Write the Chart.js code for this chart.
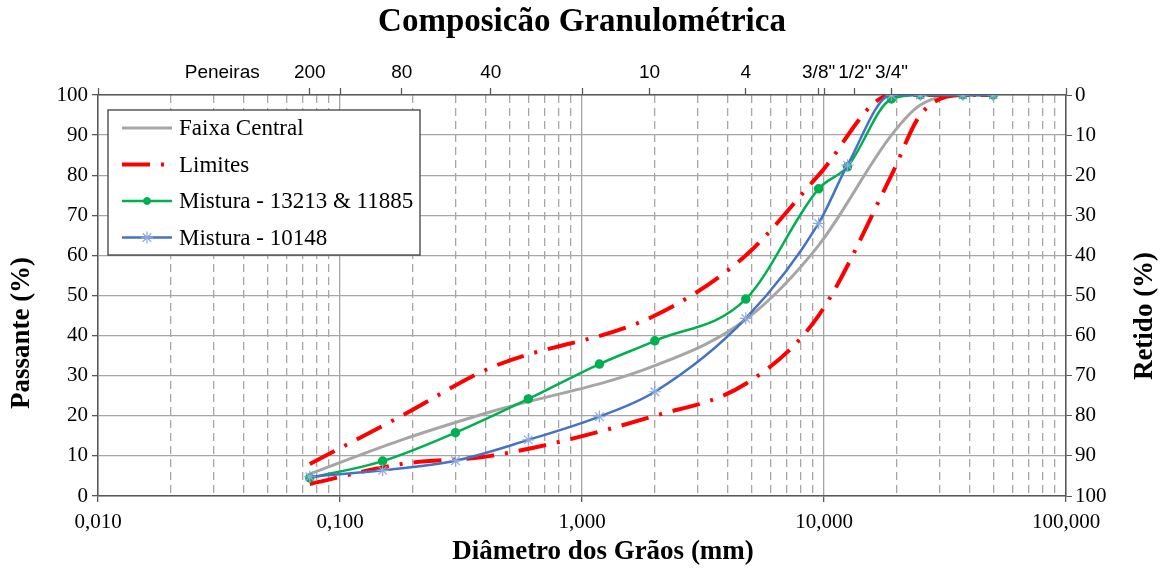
<!DOCTYPE html>
<html>
<head>
<meta charset="utf-8">
<script src="https://cdn.jsdelivr.net/npm/chart.js@4.4.1/dist/chart.umd.min.js"></script>
<style>
html, body { margin: 0; padding: 0; background: #fff; }
#wrap { width: 1164px; height: 572px; }
</style>
</head>
<body>
<div id="wrap"><canvas id="granChart"></canvas></div>
<script>
// peneiras usadas nas misturas (mm)
const misturaSieves = [0.075, 0.15, 0.3, 0.6, 1.18, 2.0, 4.75, 9.5, 12.5, 19, 25, 37.5, 50];
const mistura13213 = [4.5, 8.7, 15.8, 24.2, 32.9, 38.7, 49.1, 76.6, 82.1, 99.0, 100, 100, 100];
const mistura10148 = [4.8, 6.4, 8.8, 14.0, 19.8, 26.0, 44.3, 68.0, 82.5, 100, 100, 100, 100];

// faixa de projeto (mm)
const faixaSieves = [0.075, 0.18, 0.42, 2.0, 4.75, 9.5, 19, 25, 37.5, 50];
const limiteSuperior = [8, 20, 32, 45, 60, 80, 100, 100, 100, 100];
const limiteInferior = [3, 8, 10, 20, 28, 45, 80, 95, 100, 100];
const faixaCentral = [5.5, 14, 21, 32.5, 44, 62.5, 90, 97.5, 100, 100];

// eixo inferior
const xDecades = [0.01, 0.1, 1, 10, 100];
const xDecadeLabels = ["0,010", "0,100", "1,000", "10,000", "100,000"];

// eixo superior (peneiras)
const peneiraLabels = ["200", "80", "40", "10", "4", "3/8\"", "1/2\"", "3/4\""];
const peneiraSizes = [0.075, 0.18, 0.42, 1.9, 4.75, 9.5, 13.4, 19];
const peneirasTitlePos = 0.0326;

const SERIF = "'Liberation Serif', 'Times New Roman', serif";
const SANS = "'Liberation Sans', Arial, sans-serif";
const AXIS_COLOR = "#595959";
const GRID_COLOR = "#a6a6a6";

function toPoints(xs, ys) {
    return xs.map((x, i) => ({ x: x, y: ys[i] }));
}

function isDecade(v) {
    const l = Math.log10(v);
    return Math.abs(l - Math.round(l)) < 1e-6;
}

function sameValue(a, b) {
    return Math.abs(a - b) < 1e-9 * Math.max(1, Math.abs(b));
}

// legenda com moldura, dentro da área do gráfico
const boxedLegend = {
    id: "boxedLegend",
    afterDraw(chart) {
        const ctx = chart.ctx;
        const items = chart.data.datasets.filter(d => !d.hideInLegend);
        const x0 = 108, y0 = 110, w = 312, h = 145;
        ctx.save();
        ctx.fillStyle = "#fff";
        ctx.fillRect(x0, y0, w, h);
        ctx.strokeStyle = "#404040";
        ctx.lineWidth = 1.3;
        ctx.strokeRect(x0, y0, w, h);
        items.forEach((d, i) => {
            const cy = 128 + i * 36.5;
            ctx.save();
            ctx.strokeStyle = d.borderColor;
            ctx.lineWidth = d.borderWidth;
            ctx.setLineDash(d.borderDash || []);
            ctx.beginPath();
            ctx.moveTo(122, cy);
            ctx.lineTo(172, cy);
            ctx.stroke();
            ctx.restore();
            if (d.pointRadius > 0) {
                ctx.save();
                ctx.fillStyle = d.pointBackgroundColor;
                ctx.strokeStyle = d.pointBorderColor;
                ctx.lineWidth = d.pointBorderWidth || 1;
                Chart.helpers.drawPoint(ctx, {
                    pointStyle: d.pointStyle,
                    radius: d.pointRadius,
                    borderWidth: d.pointBorderWidth || 1,
                    rotation: 0
                }, 147, cy);
                ctx.restore();
            }
            ctx.fillStyle = "#000";
            ctx.font = "23px " + SERIF;
            ctx.textAlign = "left";
            ctx.textBaseline = "middle";
            ctx.fillText(d.label, 179, cy + 1);
        });
        ctx.restore();
    }
};

// títulos dos eixos
const axisTitles = {
    id: "axisTitles",
    afterDraw(chart) {
        const ctx = chart.ctx;
        ctx.save();
        ctx.fillStyle = "#000";
        ctx.font = "bold 27px " + SERIF;
        ctx.textAlign = "center";
        ctx.textBaseline = "middle";
        ctx.fillText("Diâmetro dos Grãos (mm)", 603, 552);
        ctx.translate(22, 333);
        ctx.rotate(-Math.PI / 2);
        ctx.fillText("Passante (%)", 0, 0);
        ctx.restore();
        ctx.save();
        ctx.fillStyle = "#000";
        ctx.font = "bold 27px " + SERIF;
        ctx.textAlign = "center";
        ctx.textBaseline = "middle";
        ctx.translate(1145, 316);
        ctx.rotate(-Math.PI / 2);
        ctx.fillText("Retido (%)", 0, 0);
        ctx.restore();
    }
};

const ctx = document.getElementById("granChart");
new Chart(ctx, {
    type: "scatter",
    data: {
        datasets: [
            {
                label: "Faixa Central",
                data: toPoints(faixaSieves, faixaCentral),
                showLine: true,
                borderColor: "#a6a6a6",
                borderWidth: 3,
                pointRadius: 0,
                cubicInterpolationMode: "monotone",
                order: 5
            },
            {
                label: "Limites",
                data: toPoints(faixaSieves, limiteSuperior),
                showLine: true,
                borderColor: "#ff0000",
                borderWidth: 4,
                borderDash: [28, 11, 3, 11],
                pointRadius: 0,
                cubicInterpolationMode: "monotone",
                order: 4
            },
            {
                label: "Limites",
                hideInLegend: true,
                data: toPoints(faixaSieves, limiteInferior),
                showLine: true,
                borderColor: "#ff0000",
                borderWidth: 4,
                borderDash: [28, 11, 3, 11],
                pointRadius: 0,
                cubicInterpolationMode: "monotone",
                order: 3
            },
            {
                label: "Mistura - 13213 & 11885",
                data: toPoints(misturaSieves, mistura13213),
                showLine: true,
                borderColor: "#00b050",
                borderWidth: 2.5,
                pointStyle: "circle",
                pointRadius: 3.5,
                pointBackgroundColor: "#00b050",
                pointBorderColor: "#00b050",
                cubicInterpolationMode: "monotone",
                order: 2
            },
            {
                label: "Mistura - 10148",
                data: toPoints(misturaSieves, mistura10148),
                showLine: true,
                borderColor: "#4472c4",
                borderWidth: 2.5,
                pointStyle: "star",
                pointRadius: 6,
                pointBorderWidth: 1.2,
                pointBackgroundColor: "#8eaadb",
                pointBorderColor: "#8eaadb",
                cubicInterpolationMode: "monotone",
                order: 1
            }
        ]
    },
    options: {
        responsive: true,
        maintainAspectRatio: false,
        animation: false,
        events: [],
        layout: { padding: 0 },
        plugins: {
            legend: { display: false },
            tooltip: { enabled: false },
            title: {
                display: true,
                text: "Composicão Granulométrica",
                color: "#000",
                font: { family: SERIF, size: 33, weight: "bold", lineHeight: 1.2 },
                padding: { top: 3, bottom: 0 }
            }
        },
        scales: {
            x: {
                type: "logarithmic",
                position: "bottom",
                min: 0.01,
                max: 100,
                afterBuildTicks(scale) {
                    const ticks = [];
                    for (let d = 0; d < 4; d++) {
                        for (let m = 1; m < 10; m++) {
                            ticks.push({ value: m * xDecades[d] });
                        }
                    }
                    ticks.push({ value: xDecades[4] });
                    scale.ticks = ticks;
                },
                afterFit(scale) { scale.height = 76; },
                ticks: {
                    autoSkip: false,
                    maxRotation: 0,
                    padding: 8,
                    color: "#000",
                    font: { family: SERIF, size: 21 },
                    callback(value) {
                        const i = xDecades.findIndex(v => sameValue(v, value));
                        return i >= 0 ? xDecadeLabels[i] : "";
                    }
                },
                grid: {
                    color: GRID_COLOR,
                    lineWidth: 1.3,
                    tickLength: 6,
                    tickColor: c => (c.tick && isDecade(c.tick.value)) ? AXIS_COLOR : "rgba(0,0,0,0)"
                },
                border: {
                    display: true,
                    color: AXIS_COLOR,
                    width: 1.5,
                    dash: c => (c.type === "tick" && c.tick && !isDecade(c.tick.value)) ? [8, 5] : []
                }
            },
            x2: {
                type: "logarithmic",
                position: "top",
                min: 0.01,
                max: 100,
                afterBuildTicks(scale) {
                    const vals = [peneirasTitlePos].concat(peneiraSizes, xDecades);
                    vals.sort((a, b) => a - b);
                    scale.ticks = vals.map(v => ({ value: v }));
                },
                afterFit(scale) { scale.height = 52.4; },
                ticks: {
                    autoSkip: false,
                    maxRotation: 0,
                    padding: 4,
                    color: "#000",
                    font: { family: SANS, size: 19 },
                    callback(value) {
                        if (sameValue(value, peneirasTitlePos)) return "Peneiras";
                        const i = peneiraSizes.findIndex(v => sameValue(v, value));
                        return i >= 0 ? peneiraLabels[i] : "";
                    }
                },
                grid: {
                    drawOnChartArea: false,
                    tickLength: 7,
                    tickColor: c => (c.tick && sameValue(c.tick.value, peneirasTitlePos)) ? "rgba(0,0,0,0)" : AXIS_COLOR,
                    tickWidth: 1.3
                },
                border: { display: true, color: AXIS_COLOR, width: 1.5 }
            },
            y: {
                type: "linear",
                position: "left",
                min: 0,
                max: 100,
                afterFit(scale) { scale.width = 98; },
                ticks: {
                    stepSize: 10,
                    padding: 4,
                    color: "#000",
                    font: { family: SERIF, size: 21 }
                },
                grid: {
                    color: GRID_COLOR,
                    lineWidth: 1.3,
                    tickLength: 6,
                    tickColor: AXIS_COLOR
                },
                border: { display: true, color: AXIS_COLOR, width: 1.5 }
            },
            y2: {
                type: "linear",
                position: "right",
                min: 0,
                max: 100,
                reverse: true,
                afterFit(scale) { scale.width = 98; },
                ticks: {
                    stepSize: 10,
                    padding: 3,
                    color: "#000",
                    font: { family: SERIF, size: 21 }
                },
                grid: {
                    drawOnChartArea: false,
                    tickLength: 6,
                    tickColor: AXIS_COLOR
                },
                border: { display: true, color: AXIS_COLOR, width: 1.5 }
            }
        }
    },
    plugins: [boxedLegend, axisTitles]
});
</script>
</body>
</html>
